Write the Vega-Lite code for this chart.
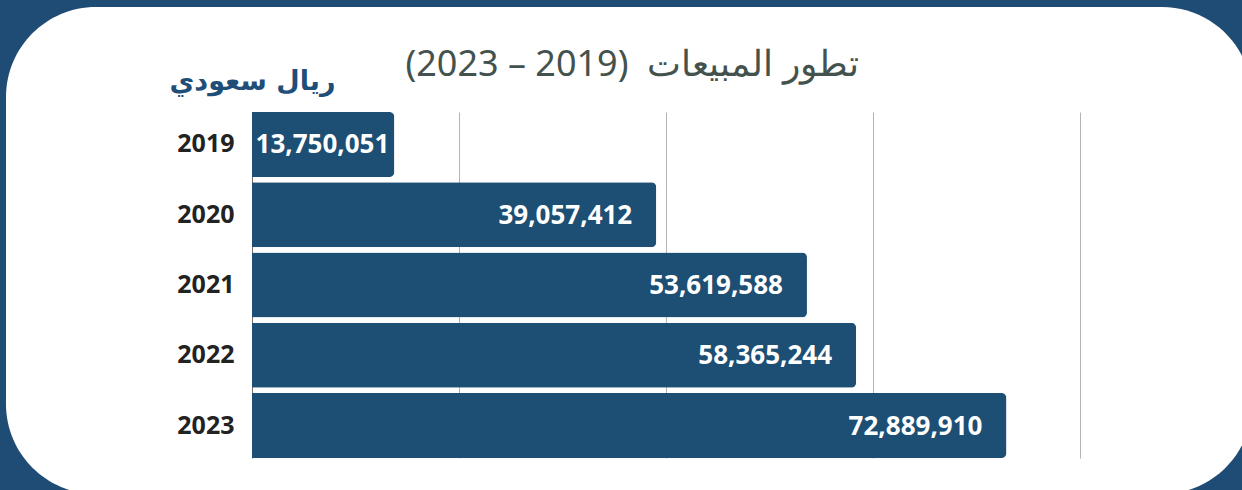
{
  "$schema": "https://vega.github.io/schema/vega-lite/v6.json",
  "width": 1246,
  "height": 487,
  "autosize": {"type": "none"},
  "padding": {"left": 6, "top": 7, "right": 0, "bottom": 0},
  "background": "#1f4c75",
  "config": {
    "view": {"fill": "white", "stroke": null, "cornerRadius": 90},
    "font": "Noto Sans"
  },
  "title": {
    "text": "تطور المبيعات\u00a0\u00a0(2019 – 2023)",
    "fontSize": 36,
    "fontWeight": "normal",
    "font": "Noto Sans",
    "color": "#44524e",
    "anchor": "middle",
    "frame": "group",
    "offset": -105,
    "baseline": "alphabetic",
    "dx": 3
  },
  "data": {
    "values": [
      {"year": "2019", "value": 13750051},
      {"year": "2020", "value": 39057412},
      {"year": "2021", "value": 53619588},
      {"year": "2022", "value": 58365244},
      {"year": "2023", "value": 72889910}
    ]
  },
  "encoding": {
    "y": {
      "field": "year",
      "type": "nominal",
      "sort": null,
      "scale": {"range": [105, 451], "paddingInner": 0.075, "paddingOuter": 0},
      "axis": {
        "title": "ريال سعودي",
        "titleAngle": 0,
        "titleAlign": "right",
        "titleBaseline": "alphabetic",
        "titleX": 83,
        "titleY": 82,
        "titleFontSize": 27,
        "titleFontWeight": "bold",
        "titleColor": "#1f4e79",
        "titleFont": "DejaVu Sans",
        "offset": -246,
        "ticks": false,
        "labelPadding": 18,
        "labelFontSize": 25,
        "labelFontWeight": "bold",
        "labelColor": "#222222",
        "labelFont": "Noto Sans",
        "domainColor": "#7a706a",
        "grid": false
      }
    }
  },
  "layer": [
    {
      "mark": {"type": "bar", "color": "#1d4e73", "cornerRadiusEnd": 5},
      "encoding": {
        "x": {
          "field": "value",
          "type": "quantitative",
          "scale": {"domain": [0, 80000000], "range": [246, 1074], "nice": false, "zero": true},
          "axis": {
            "orient": "top",
            "values": [20000000, 40000000, 60000000, 80000000],
            "labels": false,
            "ticks": false,
            "domain": false,
            "grid": true,
            "gridColor": "#b3b3b3",
            "gridWidth": 1,
            "title": null
          }
        }
      }
    },
    {
      "transform": [{"filter": "datum.value >= 20000000"}],
      "mark": {"type": "text", "align": "right", "baseline": "middle", "dx": -24, "dy": 1, "color": "white", "fontSize": 26, "fontWeight": "bold", "font": "Noto Sans"},
      "encoding": {
        "x": {"field": "value", "type": "quantitative"},
        "text": {"field": "value", "type": "quantitative", "format": ","}
      }
    },
    {
      "transform": [{"filter": "datum.value < 20000000"}],
      "mark": {"type": "text", "align": "right", "baseline": "middle", "dx": -5, "dy": 1, "color": "white", "fontSize": 26, "fontWeight": "bold", "font": "Noto Sans"},
      "encoding": {
        "x": {"field": "value", "type": "quantitative"},
        "text": {"field": "value", "type": "quantitative", "format": ","}
      }
    }
  ]
}
